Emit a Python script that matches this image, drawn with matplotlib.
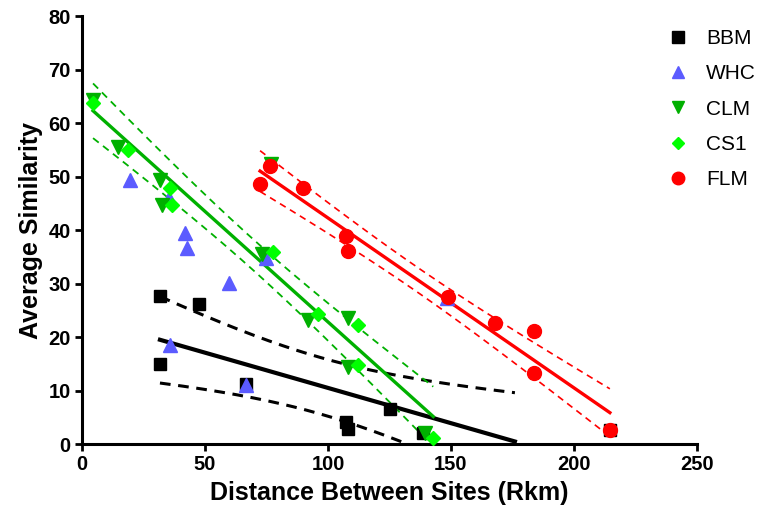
import numpy as np
import matplotlib
matplotlib.use("Agg")
import matplotlib.pyplot as plt

plt.rcParams['font.family'] = ['Liberation Sans', 'DejaVu Sans']

# data (distance in Rkm, average similarity)
bbm_x = [31.7, 47.7, 31.7, 66.7, 107.3, 108.3, 125.2, 138.7, 214.6]
bbm_y = [27.7, 26.2, 14.9, 11.2, 4.2, 2.9, 6.5, 2.0, 2.6]

whc_x = [19.5, 35.5, 41.9, 42.6, 59.6, 35.8, 66.7, 75.0, 148.5]
whc_y = [49.3, 46.0, 39.4, 36.6, 30.2, 18.5, 11.0, 34.7, 27.4]

clm_x = [4.5, 14.7, 31.7, 32.5, 73.0, 76.8, 92.0, 108.3, 108.3, 139.4]
clm_y = [64.3, 55.5, 49.3, 44.7, 35.6, 52.3, 23.2, 23.5, 14.4, 2.0]

cs1_x = [4.5, 18.8, 35.8, 36.5, 77.5, 96.1, 112.3, 112.3, 142.8]
cs1_y = [63.8, 55.0, 47.8, 44.7, 35.9, 24.4, 22.2, 14.8, 1.1]

flm_x = [72.4, 76.4, 90.0, 107.3, 108.3, 148.9, 167.9, 183.9, 183.9, 214.6]
flm_y = [48.6, 52.0, 47.8, 38.9, 36.1, 27.5, 22.6, 21.1, 13.2, 2.6]

# x range over which the black regression is drawn
bbm_fit_range = [31.7, 176]

# t values for 95% confidence bands
t95 = {7: 2.365, 8: 2.306, 17: 2.110}


def fit_band(x, y, xr):
    x = np.asarray(x)
    y = np.asarray(y)
    n = len(x)
    slope, icpt = np.polyfit(x, y, 1)
    resid = y - (slope * x + icpt)
    s = np.sqrt(np.sum(resid ** 2) / (n - 2))
    sxx = np.sum((x - x.mean()) ** 2)
    xs = np.linspace(xr[0], xr[1], 200)
    ys = slope * xs + icpt
    hw = t95[n - 2] * s * np.sqrt(1 / n + (xs - x.mean()) ** 2 / sxx)
    return xs, ys, ys - hw, ys + hw


fig = plt.figure(figsize=(7.69, 5.20), dpi=100)
ax = fig.add_axes([0.1066, 0.146, 0.7997, 0.823])

ms = 9
ax.plot(bbm_x, bbm_y, 's', color='black', ms=ms, label='BBM', clip_on=False, zorder=3)
ax.plot(whc_x, whc_y, '^', color='#5b5bff', ms=ms + 1, label='WHC', clip_on=False, zorder=3)
ax.plot(clm_x, clm_y, 'v', color='#00b000', ms=ms + 1, label='CLM', clip_on=False, zorder=3)
ax.plot(cs1_x, cs1_y, 'D', color='#00ff00', ms=ms - 2, label='CS1', clip_on=False, zorder=3)
ax.plot(flm_x, flm_y, 'o', color='#ff0000', ms=ms + 1, label='FLM', clip_on=False, zorder=3)

# regression lines with 95% confidence bands
xs, ys, lo, hi = fit_band(bbm_x, bbm_y, bbm_fit_range)
ax.plot(xs, ys, color='black', lw=3, zorder=2)
ax.plot(xs, lo, '--', color='black', lw=2.2, dashes=(3.5, 2.5), zorder=2)
ax.plot(xs, hi, '--', color='black', lw=2.2, dashes=(3.5, 2.5), zorder=2)

green_x = clm_x + cs1_x
green_y = clm_y + cs1_y
xs, ys, lo, hi = fit_band(green_x, green_y, [min(green_x), max(green_x)])
ax.plot(xs, ys, color='#00b000', lw=2.4, zorder=2)
ax.plot(xs, lo, '--', color='#00b000', lw=1.3, dashes=(4, 3), zorder=2)
ax.plot(xs, hi, '--', color='#00b000', lw=1.3, dashes=(4, 3), zorder=2)

xs, ys, lo, hi = fit_band(flm_x, flm_y, [min(flm_x), max(flm_x)])
ax.plot(xs, ys, color='#ff0000', lw=2.4, zorder=2)
ax.plot(xs, lo, '--', color='#ff0000', lw=1.2, dashes=(4, 3), zorder=2)
ax.plot(xs, hi, '--', color='#ff0000', lw=1.2, dashes=(4, 3), zorder=2)

ax.set_xlim(0, 250)
ax.set_ylim(0, 80)
ax.set_xticks([0, 50, 100, 150, 200, 250])
ax.set_yticks(range(0, 81, 10))
for side in ['top', 'right']:
    ax.spines[side].set_visible(False)
for side in ['left', 'bottom']:
    ax.spines[side].set_linewidth(2.2)
ax.tick_params(width=2, length=5, labelsize=14.5, direction='out', pad=3)
for lab in ax.get_xticklabels() + ax.get_yticklabels():
    lab.set_fontweight('bold')

ax.set_xlabel('Distance Between Sites (Rkm)', fontsize=18, fontweight='bold', labelpad=5)
ax.set_ylabel('Average Similarity', fontsize=18, fontweight='bold', labelpad=4)

fig.legend(loc='upper left', bbox_to_anchor=(0.842, 0.98), frameon=False,
           fontsize=15, markerscale=0.9, handletextpad=0.8, labelspacing=0.78,
           handlelength=1.1)

fig.savefig('out.png', dpi=100)
